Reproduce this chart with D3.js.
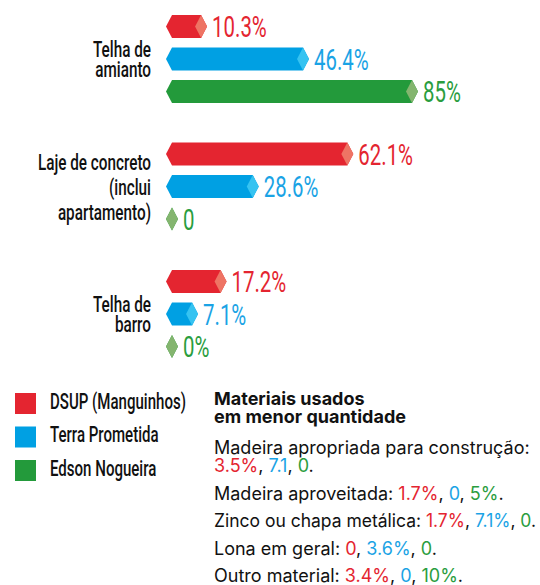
<!DOCTYPE html>
<html><head><meta charset="utf-8">
<script src="https://cdn.jsdelivr.net/npm/d3@7"></script>
<style>
html,body{margin:0;padding:0;background:#fff;}
svg{display:block;}
</style></head>
<body>
<svg id="chart" width="540" height="585"></svg>
<script>
// ---- data ----
const categories = ["Telha de\namianto", "Laje de concreto\n(inclui\napartamento)", "Telha de\nbarro"];
const seriesNames = ["DSUP (Manguinhos)", "Terra Prometida", "Edson Nogueira"];
const dsupValues = [10.3, 62.1, 17.2];
const terraValues = [46.4, 28.6, 7.1];
const edsonValues = [85, 0, 0];
const dsupLabels = ["10.3%", "62.1%", "17.2%"];
const terraLabels = ["46.4%", "28.6%", "7.1%"];
const edsonLabels = ["85%", "0", "0%"];

const notesTitle = ["Materiais usados", "em menor quantidade"];
const noteLabels = ["Madeira apropriada para construção:", "Madeira aproveitada:", "Zinco ou chapa metálica:", "Lona em geral:", "Outro material:"];
const noteDsup = ["3.5%", "1.7%", "1.7%", "0", "3.4%"];
const noteTerra = ["7.1", "0", "7.1%", "3.6%", "0"];
const noteEdson = ["0", "5%", "0", "0", "10%"];

// ---- styles ----
const colors = ["#e42530", "#00a0e3", "#239a3b"];
const lightColors = ["#ee7464", "#36c3f1", "#84b56f"];
const textColors = ["#e42530", "#1aa3e5", "#2a9d3e"];
const condensed = 0.68;
const condFont = "Roboto, 'Liberation Sans', sans-serif";
const noteFont = "Inter, 'Noto Sans', sans-serif";

const svg = d3.select("#chart");

const seriesValues = [dsupValues, terraValues, edsonValues];
const seriesLabels = [dsupLabels, terraLabels, edsonLabels];

const x = d3.scaleLinear().domain([0, 85]).range([178, 418]);
const yGroup = d3.scaleBand().domain(categories).range([10, 10 + 3 * 127.5]);
const yBar = d3.scaleLinear().domain([0, 1]).range([16.5, 49]);

const barH = 23, half = barH / 2, cap = 6, x0 = 166;

const bars = [];
categories.forEach((c, ci) => {
  seriesValues.forEach((vals, si) => {
    bars.push({c, ci, si, v: vals[ci], label: seriesLabels[si][ci]});
  });
});

const g = svg.append("g");
const bg = g.selectAll("g.bar").data(bars).join("g").attr("class", "bar")
  .attr("transform", d => `translate(0,${yGroup(d.c) + yBar(d.si)})`);

bg.append("path")
  .attr("d", d => {
    const t = x(d.v);
    return `M${x0},0 L${x0 + cap},${-half} L${t - cap},${-half} L${t},0 L${t - cap},${half} L${x0 + cap},${half} Z`;
  })
  .attr("fill", d => colors[d.si]);

bg.append("path")
  .attr("d", d => {
    const t = x(d.v);
    return `M${t - 2 * cap},0 L${t - cap},${-half} L${t},0 L${t - cap},${half} Z`;
  })
  .attr("fill", d => lightColors[d.si]);

bg.append("text")
  .attr("transform", d => `translate(${x(d.v) + 5},10.5) scale(${condensed},1)`)
  .attr("font-family", condFont)
  .attr("font-size", 30)
  .attr("fill", d => textColors[d.si])
  .text(d => d.label);

// category labels
const cat = g.selectAll("g.cat").data(categories).join("g").attr("class", "cat");
cat.each(function(c, ci) {
  const lines = c.split("\n");
  const lh = lines.length > 2 ? 25 : 19.5;
  const cy = yGroup(c) + yBar(1);
  const firstBase = cy - (lines.length - 1) * lh / 2 + 8;
  lines.forEach((ln, li) => {
    d3.select(this).append("text")
      .attr("transform", `translate(151,${firstBase + li * lh}) scale(${condensed},1)`)
      .attr("text-anchor", "end")
      .attr("font-family", condFont)
      .attr("font-weight", 500)
      .attr("font-size", 22.5)
      .attr("fill", "#111")
      .text(ln);
  });
});

// legend
const leg = svg.append("g").selectAll("g").data(seriesNames).join("g")
  .attr("transform", (d, i) => `translate(15,${393 + i * 33.5})`);
leg.append("rect").attr("width", 21).attr("height", 21).attr("fill", (d, i) => colors[i]);
leg.append("text")
  .attr("transform", `translate(35,15.5) scale(${condensed + 0.02},1)`)
  .attr("font-family", condFont)
  .attr("font-weight", 500)
  .attr("font-size", 21.5)
  .attr("fill", "#111")
  .text(d => d);

// notes
const notes = svg.append("g").attr("transform", "translate(214,0)");
notesTitle.forEach((t, i) => notes.append("text").attr("x", 0).attr("y", 405 + i * 18)
    .attr("font-family", noteFont).attr("font-weight", 700).attr("font-size", 18)
    .attr("fill", "#111").text(t));

const bodySize = 18;
const noteBase = [454, 500, 527, 555, 582];
noteLabels.forEach((lab, i) => {
  const vals = [noteDsup[i], noteTerra[i], noteEdson[i]];
  const wrap = i === 0;
  const t = notes.append("text").attr("x", 0).attr("y", noteBase[i])
    .attr("font-family", noteFont).attr("font-size", bodySize)
    .attr("fill", "#111");
  t.append("tspan").text(lab + (wrap ? "" : " "));
  vals.forEach((v, vi) => {
    const ts = t.append("tspan").attr("fill", textColors[vi]).text(v);
    if (vi === 0 && wrap) ts.attr("x", 0).attr("dy", 18);
    t.append("tspan").text(vi < 2 ? ", " : ".");
  });
  if (!wrap) {
    const w = t.node().getComputedTextLength();
    if (w > 322) t.attr("textLength", 322).attr("lengthAdjust", "spacingAndGlyphs");
  }
});
</script>
</body></html>
